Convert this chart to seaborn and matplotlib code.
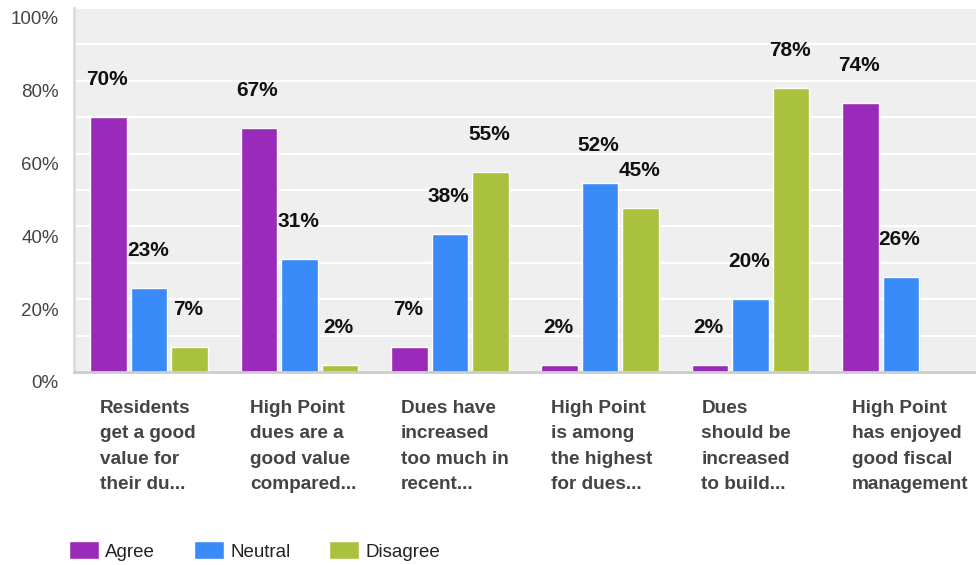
import pandas as pd
import matplotlib.pyplot as plt
import seaborn as sns
from matplotlib.ticker import MultipleLocator
from matplotlib.transforms import ScaledTranslation

categories = [
    "Residents\nget a good\nvalue for\ntheir du...",
    "High Point\ndues are a\ngood value\ncompared...",
    "Dues have\nincreased\ntoo much in\nrecent...",
    "High Point\nis among\nthe highest\nfor dues...",
    "Dues\nshould be\nincreased\nto build...",
    "High Point\nhas enjoyed\ngood fiscal\nmanagement",
]
responses = ["Agree", "Neutral", "Disagree"]
agree = [70, 67, 7, 2, 2, 74]
neutral = [23, 31, 38, 52, 20, 26]
disagree = [7, 2, 55, 45, 78, 0]
colors = ["#9a2ab9", "#3a8bf8", "#a9c13c"]

############### Long-form data ####################
df = pd.DataFrame({
    "question": categories * 3,
    "response": [r for r in responses for _ in categories],
    "pct": agree + neutral + disagree,
})

sns.set_theme(style="darkgrid", rc={"axes.facecolor": "#efefef", "grid.color": "white"})
plt.rcParams["font.family"] = ["Liberation Sans", "DejaVu Sans"]

fig = plt.figure(figsize=(9.76, 5.65), dpi=100)
ax = fig.add_axes([74 / 976, 193 / 565, 1 - 74 / 976, 364 / 565])

sns.barplot(data=df, x="question", y="pct", hue="response", hue_order=responses,
            palette=colors, saturation=1, width=0.81, gap=0.1, ax=ax)

# value labels above bars
for container in ax.containers:
    for bar in container:
        h = bar.get_height()
        if h > 0:
            ax.annotate("%d%%" % round(h), (bar.get_x() + bar.get_width() / 2, h),
                        xytext=(-1, 27), textcoords="offset points",
                        ha="center", va="center", fontsize=15, fontweight="bold",
                        color="#111111")

# axes styling
ax.set_xlim(-0.5, 5.5)
ax.set_ylim(0, 100)
ax.yaxis.set_major_locator(MultipleLocator(20))
ax.yaxis.set_minor_locator(MultipleLocator(10))
ax.set_yticklabels(["%d%%" % v for v in ax.get_yticks()])
ax.grid(axis="y", which="both", color="white", lw=1.6)
ax.grid(axis="x", visible=False)
ax.tick_params(axis="both", which="both", length=0)
ax.tick_params(axis="y", labelsize=13.5, labelcolor="#444444", pad=11)
shift = ScaledTranslation(0, -10 / 100, fig.dpi_scale_trans)
for lbl in ax.get_yticklabels():
    lbl.set_transform(lbl.get_transform() + shift)
ax.set_xticks(range(len(categories)))
ax.set_xticklabels([])
ax.set_xlabel("")
ax.set_ylabel("")
for s in ["top", "right"]:
    ax.spines[s].set_visible(False)
ax.spines["left"].set_visible(True)
ax.spines["left"].set_color("#dcdcdc")
ax.spines["left"].set_linewidth(2)
ax.spines["bottom"].set_visible(True)
ax.spines["bottom"].set_color("#cccccc")
ax.spines["bottom"].set_linewidth(2)

# category labels, left aligned under each group
for i, cat in enumerate(categories):
    ax.annotate(cat, (i - 0.5 + 26 / 150, 0), xycoords=("data", "axes fraction"),
                xytext=(0, -20), textcoords="offset points",
                ha="left", va="top", fontsize=13.7, fontweight="bold",
                color="#444444", linespacing=1.65)

# legend at bottom
handles, labels = ax.get_legend_handles_labels()
ax.legend_.remove()
fig.legend(handles, labels, loc="center left", bbox_to_anchor=(52 / 976, 14 / 565),
           ncol=3, frameon=False, fontsize=13.5, handlelength=1.6, handleheight=1.1,
           handletextpad=0.35, columnspacing=2.05, labelcolor="#222222")

plt.savefig("out.png", dpi=100)
